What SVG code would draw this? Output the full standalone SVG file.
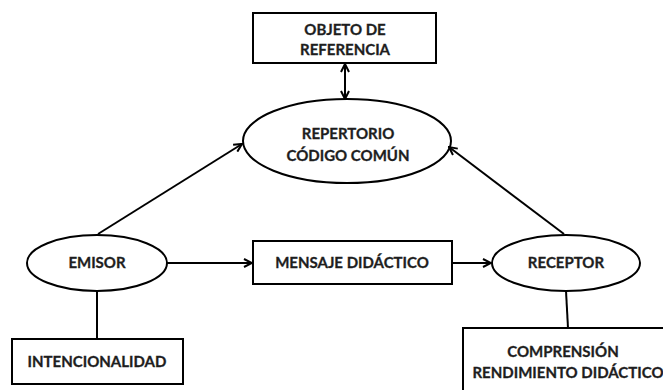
<svg xmlns="http://www.w3.org/2000/svg" width="663" height="390" viewBox="0 0 663 390">
<defs>
<style>
.box{fill:#fff;stroke:#000;stroke-width:2}
.ell{fill:#fff;stroke:#000;stroke-width:2}
.t{font-family:Lato,"Liberation Sans",Arial,sans-serif;font-weight:bold;font-size:15px;fill:#1e1e1e;text-anchor:middle;stroke:#1e1e1e;stroke-width:0.3}
.c{fill:none;stroke:#000;stroke-width:2}
</style>
<marker id="ah" viewBox="0 0 10 10" refX="9" refY="5" markerWidth="10" markerHeight="10" markerUnits="userSpaceOnUse" orient="auto-start-reverse">
<path d="M1,1 L9,5 L1,9" fill="none" stroke="#000" stroke-width="2"/>
</marker>
</defs>
<rect width="663" height="390" fill="#fff"/>
<g id="objeto">
<rect class="box" x="253" y="13" width="183" height="50"/>
<text class="t" x="345" y="35">OBJETO DE</text>
<text class="t" x="345" y="55">REFERENCIA</text>
</g>
<g id="repertorio">
<ellipse class="ell" cx="347" cy="141" rx="104" ry="42"/>
<text class="t" x="348" y="139">REPERTORIO</text>
<text class="t" x="348" y="161">CÓDIGO COMÚN</text>
</g>
<g id="emisor">
<ellipse class="ell" cx="97" cy="263" rx="70" ry="28"/>
<text class="t" x="97" y="268">EMISOR</text>
</g>
<g id="mensaje">
<rect class="box" x="253" y="241" width="199" height="43"/>
<text class="t" x="352" y="268">MENSAJE DIDÁCTICO</text>
</g>
<g id="receptor">
<ellipse class="ell" cx="566" cy="263" rx="74" ry="28"/>
<text class="t" x="566" y="268">RECEPTOR</text>
</g>
<g id="intencionalidad">
<rect class="box" x="12" y="339" width="171" height="45"/>
<text class="t" x="97" y="367">INTENCIONALIDAD</text>
</g>
<g id="comprension">
<rect class="box" x="463" y="328" width="210" height="70"/>
<text class="t" x="563" y="357">COMPRENSIÓN</text>
<text class="t" x="568" y="378">RENDIMIENTO DIDÁCTICO</text>
</g>
<g id="connectors">
<line class="c" x1="345" y1="64" x2="345" y2="99" marker-start="url(#ah)" marker-end="url(#ah)"/>
<line class="c" x1="98" y1="234" x2="242" y2="144" marker-end="url(#ah)"/>
<line class="c" x1="564" y1="234" x2="449" y2="147" marker-end="url(#ah)"/>
<line class="c" x1="167" y1="263" x2="252" y2="263" marker-end="url(#ah)"/>
<line class="c" x1="452" y1="263" x2="491" y2="263" marker-end="url(#ah)"/>
<line class="c" x1="97" y1="291" x2="97" y2="339"/>
<line class="c" x1="566" y1="291" x2="568" y2="328"/>
</g>
</svg>
